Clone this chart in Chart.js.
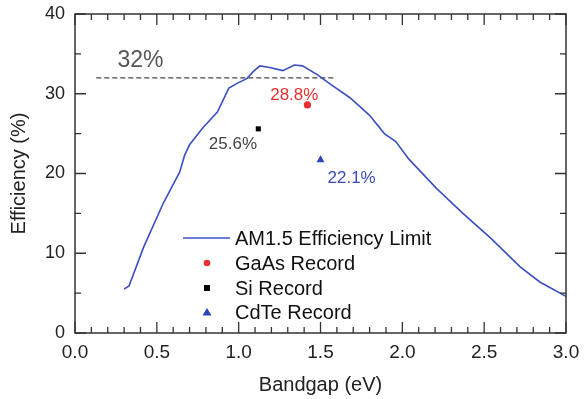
<!DOCTYPE html>
<html>
<head>
<meta charset="utf-8">
<script src="https://cdn.jsdelivr.net/npm/chart.js@4.4.1/dist/chart.umd.min.js"></script>
<style>
  html, body { margin: 0; padding: 0; background: #fff; }
  #wrap { width: 584px; height: 399px; }
</style>
</head>
<body>
<div id="wrap"><canvas id="chart" width="584" height="399"></canvas></div>
<script>
// AM1.5 limit curve (bandgap eV, efficiency %)
const limitGap = [0.30, 0.33, 0.42, 0.54, 0.64, 0.67, 0.70, 0.78, 0.87, 0.94, 0.99, 1.05, 1.09, 1.13, 1.19, 1.27, 1.34, 1.39, 1.48, 1.56, 1.68, 1.80, 1.89, 1.96, 2.04, 2.21, 2.37, 2.54, 2.72, 2.84, 3.00];
const limitEff = [5.5, 5.9, 10.8, 16.3, 20.2, 22.3, 23.6, 25.7, 27.7, 30.7, 31.3, 31.9, 32.8, 33.5, 33.3, 32.9, 33.6, 33.5, 32.4, 31.2, 29.5, 27.3, 25.0, 24.0, 21.8, 18.1, 15.0, 11.9, 8.3, 6.4, 4.6];

// record cells
const recordNames = ['GaAs Record', 'Si Record', 'CdTe Record'];
const recordGap = [1.42, 1.12, 1.50];
const recordEff = [28.6, 25.6, 21.7];

// 32% dashed reference line
const refGap = [0.13, 1.58];
const refEff = [32, 32];

// annotation texts and their anchor points (data coords)
const noteText = ['32%', '28.8%', '25.6%', '22.1%'];
const noteGap = [0.40, 1.34, 0.965, 1.69];
const noteEff = [34.1, 29.8, 23.7, 19.4];
const noteColor = ['#555555', '#e8302f', '#444444', '#3a4cc0'];
const noteSize = [23, 17, 17, 17];

const xTickLabels = ['0.0', '0.5', '1.0', '1.5', '2.0', '2.5', '3.0'];
const yTickLabels = ['0', '10', '20', '30', '40'];

const FONT = 'Liberation Sans, Arial, sans-serif';
const lineBlue = '#3c4fc2';

const toPts = (xs, ys) => xs.map((x, i) => ({ x: x, y: ys[i] }));

// frame + inward ticks on all four sides
const frameTicks = {
  id: 'frameTicks',
  afterDatasetsDraw(chart) {
    const { ctx, chartArea: a, scales } = chart;
    const xs = scales.x, ys = scales.y;
    ctx.save();
    ctx.strokeStyle = '#333';
    ctx.lineWidth = 1.5;
    ctx.strokeRect(a.left, a.top, a.right - a.left, a.bottom - a.top);
    ctx.lineWidth = 1.3;
    ctx.beginPath();
    for (let i = 0; i <= 30; i++) {
      const v = i / 10;
      const px = xs.getPixelForValue(v);
      const len = i % 5 === 0 ? 11 : 6;
      ctx.moveTo(px, a.bottom); ctx.lineTo(px, a.bottom - len);
      ctx.moveTo(px, a.top); ctx.lineTo(px, a.top + len);
    }
    for (let v = 0; v <= 40; v += 5) {
      const py = ys.getPixelForValue(v);
      const len = v % 10 === 0 ? 11 : 6;
      ctx.moveTo(a.left, py); ctx.lineTo(a.left + len, py);
      ctx.moveTo(a.right, py); ctx.lineTo(a.right - len, py);
    }
    ctx.stroke();

    // annotations
    ctx.textAlign = 'center';
    ctx.textBaseline = 'middle';
    noteText.forEach((t, i) => {
      ctx.font = noteSize[i] + 'px ' + FONT;
      ctx.fillStyle = noteColor[i];
      ctx.fillText(t, xs.getPixelForValue(noteGap[i]), ys.getPixelForValue(noteEff[i]));
    });

    // legend
    const lx = a.left + 108, tx = a.left + 160;
    let ly = a.top + 224;
    ctx.textAlign = 'left';
    ctx.font = '20px ' + FONT;
    ctx.strokeStyle = lineBlue;
    ctx.lineWidth = 1.5;
    ctx.beginPath(); ctx.moveTo(lx, ly); ctx.lineTo(lx + 47, ly); ctx.stroke();
    ctx.fillStyle = '#111';
    ctx.fillText('AM1.5 Efficiency Limit', tx, ly + 1);
    const mx = lx + 24;
    ly += 25;
    ctx.fillStyle = '#e8302f';
    ctx.beginPath(); ctx.arc(mx, ly, 3.3, 0, Math.PI * 2); ctx.fill();
    ctx.fillStyle = '#111';
    ctx.fillText(recordNames[0], tx, ly + 1);
    ly += 25;
    ctx.fillStyle = '#000';
    ctx.fillRect(mx - 3, ly - 3, 6, 6);
    ctx.fillStyle = '#111';
    ctx.fillText(recordNames[1], tx, ly + 1);
    ly += 24;
    ctx.fillStyle = '#2f43b8';
    ctx.beginPath(); ctx.moveTo(mx, ly - 4); ctx.lineTo(mx + 4.5, ly + 3.5); ctx.lineTo(mx - 4.5, ly + 3.5); ctx.closePath(); ctx.fill();
    ctx.fillStyle = '#111';
    ctx.fillText(recordNames[2], tx, ly + 1);
    ctx.restore();
  }
};

new Chart(document.getElementById('chart'), {
  type: 'scatter',
  data: {
    datasets: [
      {
        label: 'AM1.5 Efficiency Limit',
        data: toPts(limitGap, limitEff),
        showLine: true,
        borderColor: lineBlue,
        borderWidth: 1.6,
        pointRadius: 0,
        tension: 0
      },
      {
        label: '32%',
        data: toPts(refGap, refEff),
        showLine: true,
        borderColor: '#444',
        borderWidth: 1.2,
        borderDash: [5, 3],
        pointRadius: 0
      },
      {
        label: recordNames[0],
        data: [{ x: recordGap[0], y: recordEff[0] }],
        pointStyle: 'circle',
        pointRadius: 3.6,
        backgroundColor: '#e8302f',
        borderWidth: 0
      },
      {
        label: recordNames[1],
        data: [{ x: recordGap[1], y: recordEff[1] }],
        pointStyle: 'rect',
        pointRadius: 3.6,
        backgroundColor: '#000',
        borderWidth: 0
      },
      {
        label: recordNames[2],
        data: [{ x: recordGap[2], y: recordEff[2] }],
        pointStyle: 'triangle',
        pointRadius: 4.6,
        backgroundColor: '#2f43b8',
        borderWidth: 0
      }
    ]
  },
  options: {
    responsive: false,
    animation: false,
    layout: { padding: { top: 14, right: 18, left: 0, bottom: 0 } },
    scales: {
      x: {
        type: 'linear',
        min: 0, max: 3,
        grid: { display: false, drawTicks: false },
        border: { display: false },
        ticks: {
          stepSize: 0.5,
          padding: 8,
          color: '#222',
          font: { family: FONT, size: 19 },
          callback: (v) => xTickLabels[Math.round(v * 2)]
        },
        title: {
          display: true,
          text: 'Bandgap (eV)',
          color: '#222',
          font: { family: FONT, size: 20 },
          padding: { top: 0, bottom: 2 }
        },
        afterFit: (s) => { s.height = 66; s.paddingLeft = 0; s.paddingRight = 0; }
      },
      y: {
        min: 0, max: 40,
        grid: { display: false, drawTicks: false },
        border: { display: false },
        ticks: {
          stepSize: 10,
          padding: 10,
          color: '#222',
          font: { family: FONT, size: 18 },
          callback: (v) => yTickLabels[Math.round(v / 10)]
        },
        title: {
          display: true,
          text: 'Efficiency (%)',
          color: '#222',
          font: { family: FONT, size: 20 },
          padding: { top: 7, bottom: 0 }
        },
        afterFit: (s) => { s.width = 75; s.paddingTop = 0; s.paddingBottom = 0; }
      }
    },
    plugins: {
      legend: { display: false },
      tooltip: { enabled: false }
    }
  },
  plugins: [frameTicks]
});
</script>
</body>
</html>
